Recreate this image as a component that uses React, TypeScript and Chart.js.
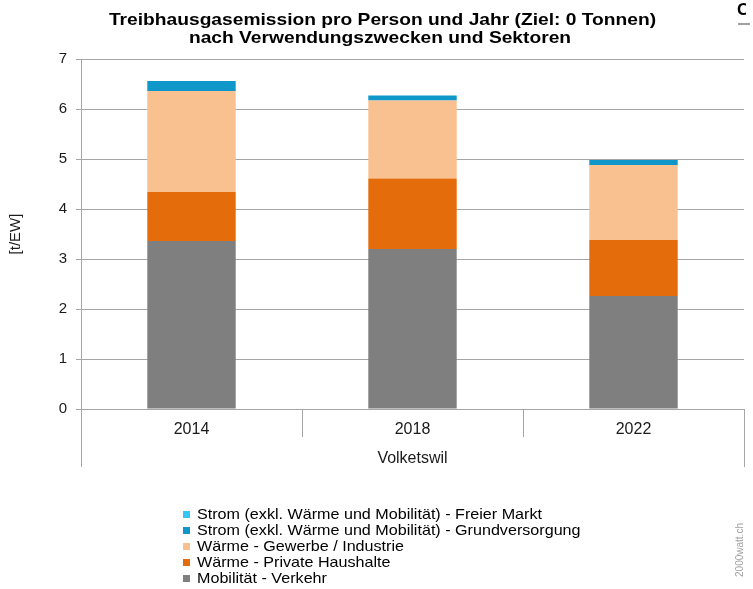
import React, { useEffect, useRef } from 'react';
import { Chart, registerables } from 'chart.js';

Chart.register(...registerables);

const titleLines = [
  'Treibhausgasemission pro Person und Jahr (Ziel: 0 Tonnen)',
  'nach Verwendungszwecken und Sektoren',
];
const categories = ['2014', '2018', '2022'];
const groupLabel = 'Volketswil';
const yAxisTitle = '[t/EW]';
const watermark = '2000watt.ch';

const seriesNames = [
  'Mobilität - Verkehr',
  'Wärme - Private Haushalte',
  'Wärme - Gewerbe / Industrie',
  'Strom (exkl. Wärme und Mobilität) - Grundversorgung',
  'Strom (exkl. Wärme und Mobilität) - Freier Markt',
];
const verkehr = [3.36, 3.2, 2.26];
const privateHaushalte = [0.98, 1.41, 1.12];
const gewerbeIndustrie = [2.02, 1.56, 1.5];
const grundversorgung = [0.2, 0.1, 0.1];
const freierMarkt = [0, 0, 0];
const seriesValues = [verkehr, privateHaushalte, gewerbeIndustrie, grundversorgung, freierMarkt];
const seriesColors = ['#7f7f7f', '#e46c0a', '#f9c190', '#0e97c8', '#33c6f2'];

const yMin = 0;
const yMax = 7;
const yStep = 1;

const FONT = '"Liberation Sans", Arial, Helvetica, sans-serif';
const GRID = '#a6a6a6';

function stretchedText(ctx: CanvasRenderingContext2D, text: string, x: number, y: number, sx: number) {
  ctx.save();
  ctx.translate(x, y);
  ctx.scale(sx, 1);
  ctx.fillText(text, 0, 0);
  ctx.restore();
}

const decorPlugin = {
  id: 'decor',
  afterDraw(chart: any) {
    const ctx = chart.ctx as CanvasRenderingContext2D;
    const ca = chart.chartArea;
    const xs = chart.scales.x;
    ctx.save();

    // Title
    ctx.fillStyle = '#000';
    ctx.font = `bold 17px ${FONT}`;
    ctx.textAlign = 'center';
    ctx.textBaseline = 'alphabetic';
    stretchedText(ctx, titleLines[0], 382.5, 24.5, 1.13);
    stretchedText(ctx, titleLines[1], 380, 43, 1.13);

    // Category dividers (multi-level axis)
    ctx.strokeStyle = GRID;
    ctx.lineWidth = 1;
    const n = categories.length;
    for (let i = 0; i <= n; i++) {
      let px: number;
      if (i === 0) px = ca.left;
      else if (i === n) px = ca.right;
      else px = (xs.getPixelForValue(i - 1) + xs.getPixelForValue(i)) / 2;
      const outer = i === 0 || i === n;
      const bottom = ca.bottom + (outer ? 58 : 28);
      const x = Math.round(px) + 0.5;
      ctx.beginPath();
      ctx.moveTo(x, ca.bottom);
      ctx.lineTo(x, bottom);
      ctx.stroke();
    }

    // Legend (reversed order, single column)
    ctx.font = `15px ${FONT}`;
    ctx.textAlign = 'left';
    ctx.textBaseline = 'middle';
    const ds = chart.data.datasets;
    let row = 0;
    for (let i = ds.length - 1; i >= 0; i--) {
      const cy = 514 + row * 16.2;
      ctx.fillStyle = ds[i].backgroundColor;
      ctx.fillRect(183, Math.round(cy - 3.5), 7, 7);
      ctx.fillStyle = '#000';
      stretchedText(ctx, ds[i].label, 197, cy + 0.5, 1.075);
      row++;
    }

    // Watermark
    ctx.translate(740, 550);
    ctx.rotate(-Math.PI / 2);
    ctx.font = `10px ${FONT}`;
    ctx.fillStyle = '#a0a0a0';
    ctx.textAlign = 'center';
    ctx.textBaseline = 'middle';
    ctx.fillText(watermark, 0, 0);

    ctx.restore();
  },
};

export default function App() {
  const canvasRef = useRef<HTMLCanvasElement | null>(null);

  useEffect(() => {
    if (!canvasRef.current) return;
    const chart = new Chart(canvasRef.current, {
      type: 'bar',
      data: {
        labels: categories,
        datasets: seriesNames.map((name, i) => ({
          label: name,
          data: seriesValues[i],
          backgroundColor: seriesColors[i],
          borderWidth: 0,
          categoryPercentage: 0.8,
          barPercentage: 0.5,
        })),
      },
      options: {
        animation: false,
        responsive: false,
        maintainAspectRatio: false,
        layout: { padding: { top: 59, right: 9, bottom: 118, left: 0 } },
        plugins: {
          legend: { display: false },
          title: { display: false },
          tooltip: { enabled: false },
        },
        scales: {
          x: {
            stacked: true,
            grid: { display: false },
            border: { display: true, color: GRID },
            ticks: { color: '#1a1a1a', font: { family: FONT, size: 16 }, padding: 3 },
            title: {
              display: true,
              text: groupLabel,
              color: '#1a1a1a',
              font: { family: FONT, size: 16 },
              padding: { top: 0, bottom: 3 },
            },
            afterFit: (scale: any) => {
              scale.height = 62;
            },
          },
          y: {
            stacked: true,
            min: yMin,
            max: yMax,
            ticks: { stepSize: yStep, color: '#1a1a1a', font: { family: FONT, size: 15 }, padding: 9 },
            grid: { color: GRID, tickLength: 5, drawTicks: true },
            border: { display: true, color: GRID },
            title: {
              display: true,
              text: yAxisTitle,
              color: '#1a1a1a',
              font: { family: FONT, size: 15 },
              padding: { top: 7, bottom: 0 },
            },
            afterFit: (scale: any) => {
              scale.width = 81;
            },
          },
        },
      },
      plugins: [decorPlugin],
    });
    return () => chart.destroy();
  }, []);

  return (
    <div style={{ position: 'absolute', left: 0, top: 0, width: 753, height: 589, background: '#fff', overflow: 'hidden' }}>
      <canvas ref={canvasRef} width={753} height={589} style={{ display: 'block' }} />
      <div
        style={{
          position: 'absolute',
          left: 737,
          top: 0,
          width: 9,
          height: 20,
          overflow: 'hidden',
          font: `bold 17px ${FONT}`,
          color: '#000',
          lineHeight: '20px',
        }}
      >
        C
      </div>
      <div style={{ position: 'absolute', left: 738, top: 23, width: 12, height: 2, background: '#a0a0a0' }} />
    </div>
  );
}
